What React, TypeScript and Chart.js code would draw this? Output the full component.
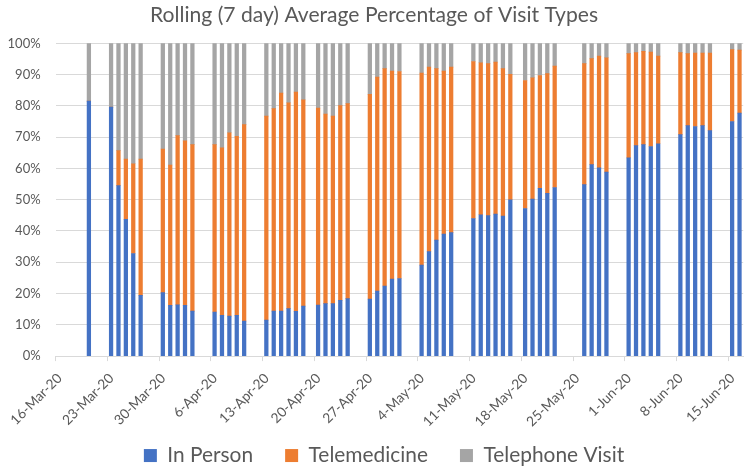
import React, { useEffect, useRef } from "react";
import { Chart, registerables } from "chart.js";

Chart.register(...registerables);

const seriesNames = ["In Person", "Telemedicine", "Telephone Visit"];
const seriesColors = ["#4472C4", "#ED7D31", "#A5A5A5"];

const dates = [
  "2020-03-20",
  "2020-03-23", "2020-03-24", "2020-03-25", "2020-03-26", "2020-03-27",
  "2020-03-30", "2020-03-31", "2020-04-01", "2020-04-02", "2020-04-03",
  "2020-04-06", "2020-04-07", "2020-04-08", "2020-04-09", "2020-04-10",
  "2020-04-13", "2020-04-14", "2020-04-15", "2020-04-16", "2020-04-17", "2020-04-18",
  "2020-04-20", "2020-04-21", "2020-04-22", "2020-04-23", "2020-04-24",
  "2020-04-27", "2020-04-28", "2020-04-29", "2020-04-30", "2020-05-01",
  "2020-05-04", "2020-05-05", "2020-05-06", "2020-05-07", "2020-05-08",
  "2020-05-11", "2020-05-12", "2020-05-13", "2020-05-14", "2020-05-15", "2020-05-16",
  "2020-05-18", "2020-05-19", "2020-05-20", "2020-05-21", "2020-05-22",
  "2020-05-26", "2020-05-27", "2020-05-28", "2020-05-29",
  "2020-06-01", "2020-06-02", "2020-06-03", "2020-06-04", "2020-06-05",
  "2020-06-08", "2020-06-09", "2020-06-10", "2020-06-11", "2020-06-12",
  "2020-06-15", "2020-06-16",
];

const inPerson = [
  81.5,
  79.6, 54.5, 43.7, 32.8, 19.4,
  20.3, 16.2, 16.4, 16.2, 14.4,
  14.1, 13.0, 12.8, 13.0, 11.2,
  11.5, 14.4, 14.4, 15.2, 14.3, 16.0,
  16.3, 16.8, 16.8, 17.8, 18.4,
  18.2, 20.8, 22.4, 24.6, 24.8,
  29.1, 33.4, 37.1, 39.0, 39.5,
  44.0, 45.2, 44.9, 45.4, 44.8, 50.0,
  47.2, 50.2, 53.6, 52.0, 53.9,
  54.8, 61.2, 60.2, 58.8,
  63.4, 67.3, 67.6, 67.0, 67.9,
  70.8, 73.7, 73.4, 73.7, 72.1,
  75.0, 77.7,
];

const telemedicine = [
  0,
  0, 11.2, 19.3, 28.7, 43.6,
  45.9, 44.9, 54.1, 52.6, 53.2,
  53.5, 53.6, 58.6, 57.3, 62.8,
  65.2, 64.7, 69.7, 65.8, 70.1, 65.9,
  63.0, 60.6, 59.9, 62.3, 62.3,
  65.5, 68.4, 69.5, 66.5, 66.2,
  61.4, 59.0, 54.8, 52.1, 52.9,
  50.2, 48.6, 48.6, 48.6, 47.1, 40.1,
  40.9, 38.8, 36.1, 38.3, 38.8,
  38.7, 33.9, 35.7, 36.6,
  33.3, 29.7, 29.8, 30.2, 28.0,
  26.2, 23.0, 23.5, 23.2, 24.8,
  23.0, 20.1,
];

const telephone = [
  18.5,
  20.4, 34.3, 37.0, 38.5, 37.0,
  33.8, 38.9, 29.5, 31.2, 32.4,
  32.4, 33.4, 28.6, 29.7, 26.0,
  23.3, 20.9, 15.9, 19.0, 15.6, 18.1,
  20.7, 22.6, 23.3, 19.9, 19.3,
  16.3, 10.8, 8.1, 8.9, 9.0,
  9.5, 7.6, 8.1, 8.9, 7.6,
  5.8, 6.2, 6.5, 6.0, 8.1, 9.9,
  11.9, 11.0, 10.3, 9.7, 7.3,
  6.5, 4.9, 4.1, 4.6,
  3.3, 3.0, 2.6, 2.8, 4.1,
  3.0, 3.3, 3.1, 3.1, 3.1,
  2.0, 2.2,
];

const xTickLabels = [
  "16-Mar-20", "23-Mar-20", "30-Mar-20", "6-Apr-20", "13-Apr-20", "20-Apr-20", "27-Apr-20",
  "4-May-20", "11-May-20", "18-May-20", "25-May-20", "1-Jun-20", "8-Jun-20", "15-Jun-20",
];
const yTickValues = [0, 10, 20, 30, 40, 50, 60, 70, 80, 90, 100];

const startDate = "2020-03-16";
const titleText = "Rolling (7 day) Average Percentage of Visit Types";

const FONT = "Lato";
const TEXT = "#595959";
const GRID = "#D9D9D9";

function dayIndex(d: string): number {
  const [y, m, dd] = d.split("-").map(Number);
  const [sy, sm, sd] = startDate.split("-").map(Number);
  return Math.round((Date.UTC(y, m - 1, dd) - Date.UTC(sy, sm - 1, sd)) / 86400000);
}

function fitSize(text: string, target: number): number {
  const ctx = document.createElement("canvas").getContext("2d")!;
  ctx.font = `100px ${FONT}`;
  const w = ctx.measureText(text).width;
  return Math.round((100 * target / w) * 10) / 10;
}

const legendShift = {
  id: "legendShift",
  afterLayout(chart: any) {
    if (chart.legend) {
      chart.legend.left += 10;
      chart.legend.right += 10;
    }
  },
};

export default function App() {
  const ref = useRef<HTMLCanvasElement>(null);

  useEffect(() => {
    if (!ref.current) return;
    const titleSize = fitSize(titleText, 449);
    const legendSize = fitSize("In Person", 86);
    const yTickSize = fitSize("100%", 33);
    const xTickSize = fitSize("16-Mar-20", 66);

    const point = (vals: number[]) => vals.map((v, i) => ({ x: dayIndex(dates[i]) + 0.5, y: v }));
    const weekTicks = xTickLabels.map((_, i) => i * 7);

    const chart = new Chart(ref.current, {
      type: "bar",
      data: {
        datasets: [inPerson, telemedicine, telephone].map((vals, k) => ({
          label: seriesNames[k],
          data: point(vals),
          backgroundColor: seriesColors[k],
          borderWidth: 0,
          barThickness: 3.6,
        })),
      },
      plugins: [legendShift],
      options: {
        animation: false,
        responsive: false,
        layout: { padding: { left: 0, right: 1, top: 0, bottom: -6 } },
        plugins: {
          title: {
            display: true,
            text: titleText,
            color: TEXT,
            font: { family: FONT, size: titleSize, weight: "normal" },
            padding: { top: 3, bottom: 15 },
          },
          legend: {
            position: "bottom",
            labels: {
              color: TEXT,
              font: { family: FONT, size: legendSize },
              boxWidth: 13,
              boxHeight: 13,
              padding: 32,
            },
          },
          tooltip: { enabled: false },
        },
        scales: {
          x: {
            type: "linear",
            stacked: true,
            offset: false,
            min: 0,
            max: 93,
            afterBuildTicks: (scale: any) => {
              scale.ticks = weekTicks.map((v) => ({ value: v }));
            },
            afterFit: (scale: any) => {
              scale.height = 57;
              scale._computeLabelArea = () => undefined;
            },
            ticks: {
              color: TEXT,
              font: { family: FONT, size: xTickSize },
              minRotation: 45,
              maxRotation: 45,
              autoSkip: false,
              padding: 9,
              labelOffset: 4,
              callback: (_v: any, i: number) => xTickLabels[i],
            },
            grid: {
              offset: false,
              drawOnChartArea: false,
              drawTicks: true,
              tickLength: 5,
              color: GRID,
            },
            border: { display: true, color: GRID },
          },
          y: {
            stacked: true,
            min: 0,
            max: 100,
            afterBuildTicks: (scale: any) => {
              scale.ticks = yTickValues.map((v) => ({ value: v }));
            },
            afterFit: (scale: any) => {
              scale.width = 52;
            },
            ticks: {
              color: TEXT,
              font: { family: FONT, size: yTickSize },
              padding: 15,
              callback: (v: any) => `${v}%`,
            },
            grid: { color: GRID, drawTicks: false },
            border: { display: false },
          },
        },
      },
    } as any);
    return () => chart.destroy();
  }, []);

  return (
    <div style={{ position: "absolute", left: 0, top: 0, width: 749, height: 470 }}>
      <canvas ref={ref} width={749} height={470} style={{ display: "block" }} />
    </div>
  );
}
